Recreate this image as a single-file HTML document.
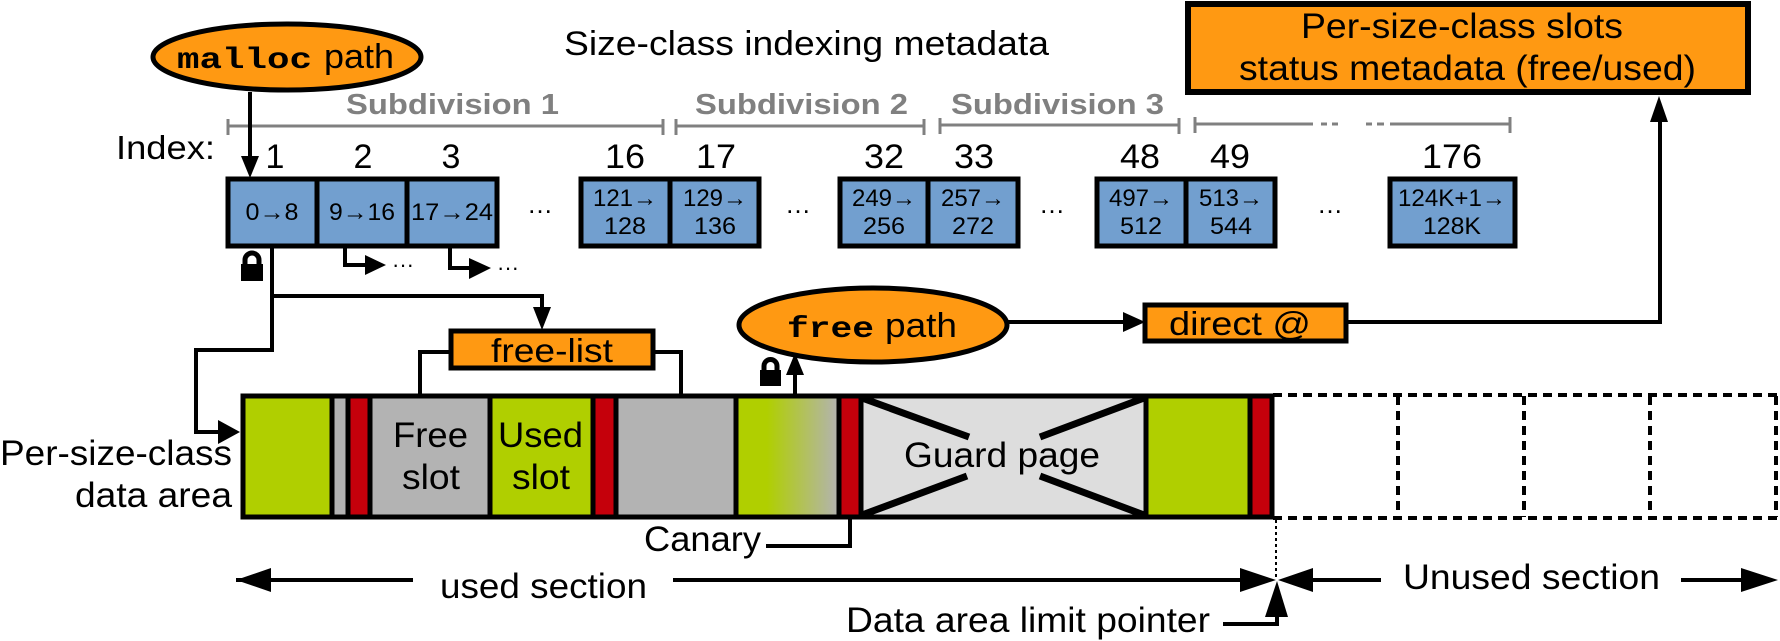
<!DOCTYPE html>
<html><head><meta charset="utf-8"><style>html,body{margin:0;padding:0;background:#fff}svg{display:block}</style></head>
<body>
<svg width="1780" height="641" viewBox="0 0 1780 641" xmlns="http://www.w3.org/2000/svg" font-family="Liberation Sans, sans-serif">
<defs>
<linearGradient id="g" x1="0" x2="1" y1="0" y2="0"><stop offset="0.3" stop-color="#b0cf00"/><stop offset="1" stop-color="#b3b3b3"/></linearGradient>
</defs>
<!-- malloc ellipse -->
<ellipse cx="287" cy="57" rx="134" ry="33" fill="#ff9912" stroke="#000" stroke-width="5"/>
<text x="177" y="68" font-family="Liberation Mono, monospace" font-weight="bold" font-size="30" textLength="135" lengthAdjust="spacingAndGlyphs">malloc</text>
<text x="324" y="68" font-size="34" textLength="70" lengthAdjust="spacingAndGlyphs">path</text>
<text x="564" y="55" font-size="34" textLength="485" lengthAdjust="spacingAndGlyphs">Size-class indexing metadata</text>
<!-- top right box -->
<rect x="1188" y="4" width="560" height="88" fill="#ff9912" stroke="#000" stroke-width="6"/>
<text x="1301" y="38" font-size="35" textLength="322" lengthAdjust="spacingAndGlyphs">Per-size-class slots</text>
<text x="1239" y="80" font-size="35" textLength="457" lengthAdjust="spacingAndGlyphs">status metadata (free/used)</text>
<!-- subdivisions -->
<g fill="#808080" font-weight="bold" font-size="29">
<text x="346" y="114" textLength="213" lengthAdjust="spacingAndGlyphs">Subdivision 1</text>
<text x="695" y="114" textLength="213" lengthAdjust="spacingAndGlyphs">Subdivision 2</text>
<text x="951" y="114" textLength="213" lengthAdjust="spacingAndGlyphs">Subdivision 3</text>
</g>
<g stroke="#808080" stroke-width="3" fill="none">
<path d="M228 126H663M228 119V135M663 119V135"/>
<path d="M676 126H924M676 119V135M924 119V135"/>
<path d="M940 125H1179M940 118V134M1179 118V134"/>
<path d="M1195 124H1313M1321 124H1327M1332 124H1338M1366 124H1372M1377 124H1384M1390 124H1510M1195 117V133M1510 117V133"/>
</g>
<text x="116" y="159" font-size="33" textLength="99" lengthAdjust="spacingAndGlyphs">Index:</text>
<g font-size="34" text-anchor="middle">
<text x="275" y="168">1</text><text x="363" y="168">2</text><text x="451" y="168">3</text>
<text x="625" y="168" textLength="40" lengthAdjust="spacingAndGlyphs">16</text><text x="716" y="168" textLength="40" lengthAdjust="spacingAndGlyphs">17</text>
<text x="884" y="168" textLength="40" lengthAdjust="spacingAndGlyphs">32</text><text x="974" y="168" textLength="40" lengthAdjust="spacingAndGlyphs">33</text>
<text x="1140" y="168" textLength="40" lengthAdjust="spacingAndGlyphs">48</text><text x="1230" y="168" textLength="40" lengthAdjust="spacingAndGlyphs">49</text>
<text x="1452" y="168" textLength="60" lengthAdjust="spacingAndGlyphs">176</text>
</g>
<!-- index boxes -->
<g fill="#729fcf" stroke="#000" stroke-width="5">
<rect x="228" y="179" width="269" height="67"/>
<rect x="581" y="179" width="178" height="67"/>
<rect x="840" y="179" width="178" height="67"/>
<rect x="1097" y="179" width="178" height="67"/>
<rect x="1390" y="179" width="125" height="67"/>
</g>
<g stroke="#000" stroke-width="5"><path d="M317 179V246M407 179V246M670 179V246M928 179V246M1186 179V246"/></g>
<g font-size="24" text-anchor="middle" lengthAdjust="spacingAndGlyphs">
<text x="272" y="220" textLength="53" lengthAdjust="spacingAndGlyphs">0→8</text><text x="362" y="220" textLength="66" lengthAdjust="spacingAndGlyphs">9→16</text><text x="452" y="220" textLength="82" lengthAdjust="spacingAndGlyphs">17→24</text>
<text x="625" y="206" textLength="64" lengthAdjust="spacingAndGlyphs">121→</text><text x="625" y="234" textLength="42" lengthAdjust="spacingAndGlyphs">128</text>
<text x="715" y="206" textLength="64" lengthAdjust="spacingAndGlyphs">129→</text><text x="715" y="234" textLength="42" lengthAdjust="spacingAndGlyphs">136</text>
<text x="884" y="206" textLength="64" lengthAdjust="spacingAndGlyphs">249→</text><text x="884" y="234" textLength="42" lengthAdjust="spacingAndGlyphs">256</text>
<text x="973" y="206" textLength="64" lengthAdjust="spacingAndGlyphs">257→</text><text x="973" y="234" textLength="42" lengthAdjust="spacingAndGlyphs">272</text>
<text x="1141" y="206" textLength="64" lengthAdjust="spacingAndGlyphs">497→</text><text x="1141" y="234" textLength="42" lengthAdjust="spacingAndGlyphs">512</text>
<text x="1231" y="206" textLength="64" lengthAdjust="spacingAndGlyphs">513→</text><text x="1231" y="234" textLength="42" lengthAdjust="spacingAndGlyphs">544</text>
<text x="1452" y="206" textLength="108" lengthAdjust="spacingAndGlyphs">124K+1→</text><text x="1452" y="234" textLength="58" lengthAdjust="spacingAndGlyphs">128K</text>
</g>
<g font-size="26" text-anchor="middle">
<text x="540" y="213">…</text><text x="798" y="213">…</text><text x="1052" y="213">…</text><text x="1330" y="213">…</text>
</g>
<!-- malloc arrow -->
<path d="M250 92V160" stroke="#000" stroke-width="4"/><path d="M241 156L259 156L250 178Z"/>
<!-- lock icons -->
<g>
<rect x="241" y="264" width="22" height="17"/><path d="M245 266V260A7 7 0 0 1 259 260V266" fill="none" stroke="#000" stroke-width="5"/>
<rect x="760" y="370" width="21" height="16"/><path d="M764 372V366A6.5 6.5 0 0 1 777 366V372" fill="none" stroke="#000" stroke-width="5"/>
</g>
<!-- connectors -->
<g stroke="#000" stroke-width="4" fill="none">
<path d="M345 246V265H368"/><path d="M450 246V268H472"/>
<path d="M272 246V350H196V432H220"/>
<path d="M272 296H542V310"/>
<path d="M420 395V352H450M653 352H681V395"/>
<path d="M795 394V370"/>
<path d="M1008 322H1125"/>
<path d="M1347 322H1660V120"/>
<path d="M766 546H850V518"/>
<path d="M236 580H413M673 580H1240M1313 580H1381M1681 580H1745"/>
<path d="M1223 624H1277V615"/>
</g>
<g>
<path d="M365 255L386 265L365 275Z"/><path d="M469 258L491 268L469 279Z"/>
<path d="M218 420L240 432L218 444Z"/>
<path d="M533 307L551 307L542 330Z"/>
<path d="M786 375L804 375L795 353Z"/>
<path d="M1123 312L1145 322L1123 332Z"/>
<path d="M1650 122L1668 122L1659 96Z"/>
<path d="M236 580L271 568L271 592Z"/>
<path d="M1276 580L1240 568L1240 592Z"/>
<path d="M1278 580L1313 568L1313 592Z"/>
<path d="M1778 580L1741 568L1741 592Z"/>
<path d="M1277 581L1265 617L1288 617Z"/>
</g>
<g font-size="22"><text x="392" y="272">···</text><text x="497" y="275">···</text></g>
<!-- free-list box -->
<rect x="451" y="331" width="202" height="37" fill="#ff9912" stroke="#000" stroke-width="5"/>
<text x="491" y="362" font-size="33" textLength="122" lengthAdjust="spacingAndGlyphs">free-list</text>
<!-- free ellipse -->
<ellipse cx="873" cy="325" rx="134" ry="37" fill="#ff9912" stroke="#000" stroke-width="5"/>
<text x="787" y="337" font-family="Liberation Mono, monospace" font-weight="bold" font-size="30" textLength="87" lengthAdjust="spacingAndGlyphs">free</text>
<text x="885" y="337" font-size="34" textLength="72" lengthAdjust="spacingAndGlyphs">path</text>
<!-- direct box -->
<rect x="1145" y="305" width="201" height="36" fill="#ff9912" stroke="#000" stroke-width="5"/>
<text x="1169" y="335" font-size="33" textLength="142" lengthAdjust="spacingAndGlyphs">direct @</text>
<!-- data area -->
<g stroke="#000" stroke-width="5">
<rect x="243" y="396" width="89" height="121" fill="#b0cf00"/>
<rect x="332" y="396" width="16" height="121" fill="#b3b3b3"/>
<rect x="348" y="396" width="22" height="121" fill="#c5000b"/>
<rect x="370" y="396" width="120" height="121" fill="#b3b3b3"/>
<rect x="490" y="396" width="103" height="121" fill="#b0cf00"/>
<rect x="593" y="396" width="23" height="121" fill="#c5000b"/>
<rect x="616" y="396" width="120" height="121" fill="#b3b3b3"/>
<rect x="736" y="396" width="103" height="121" fill="url(#g)"/>
<rect x="839" y="396" width="22" height="121" fill="#c5000b"/>
<rect x="861" y="396" width="285" height="121" fill="#dddddd"/>
<rect x="1146" y="396" width="104" height="121" fill="#b0cf00"/>
<rect x="1250" y="396" width="22" height="121" fill="#c5000b"/>
</g>
<g stroke="#000" stroke-width="7"><path d="M862 398L969 437M1144 398L1040 437M862 515L967 476M1144 515L1040 476"/></g>
<g stroke="#000" stroke-width="4" fill="none" stroke-dasharray="9 6">
<path d="M1273 395H1780M1273 518H1780"/>
<path d="M1398 396V517M1524 396V517M1650 396V517M1776 396V517"/>
</g>
<path d="M1276 520V578" stroke="#000" stroke-width="2" stroke-dasharray="3 3"/>
<g font-size="35" lengthAdjust="spacingAndGlyphs">
<text x="393" y="447" textLength="75" lengthAdjust="spacingAndGlyphs">Free</text><text x="402" y="489" textLength="58" lengthAdjust="spacingAndGlyphs">slot</text>
<text x="498" y="447" textLength="85" lengthAdjust="spacingAndGlyphs">Used</text><text x="512" y="489" textLength="58" lengthAdjust="spacingAndGlyphs">slot</text>
<text x="904" y="467" textLength="196" lengthAdjust="spacingAndGlyphs">Guard page</text>
<text x="0" y="465" textLength="232" lengthAdjust="spacingAndGlyphs">Per-size-class</text>
<text x="75" y="507" textLength="157" lengthAdjust="spacingAndGlyphs">data area</text>
<text x="644" y="551" textLength="117" lengthAdjust="spacingAndGlyphs">Canary</text>
<text x="440" y="598" textLength="207" lengthAdjust="spacingAndGlyphs">used section</text>
<text x="1403" y="589" textLength="257" lengthAdjust="spacingAndGlyphs">Unused section</text>
<text x="846" y="632" textLength="364" lengthAdjust="spacingAndGlyphs">Data area limit pointer</text>
</g>
</svg>
</body></html>
